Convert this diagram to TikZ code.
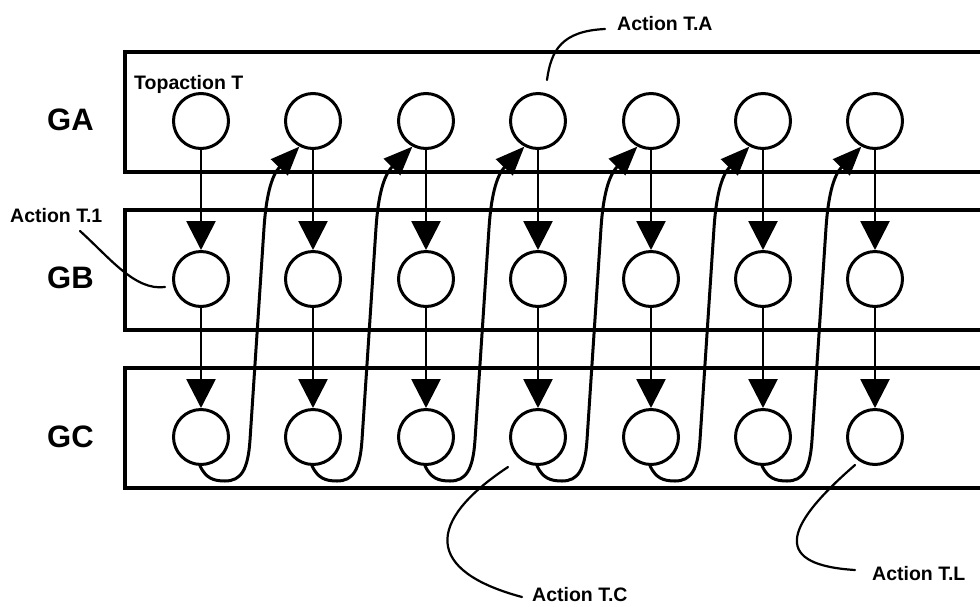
\documentclass[tikz,border=0pt]{standalone}
\usepackage{fontspec}
\setmainfont{Liberation Sans}
\usetikzlibrary{arrows.meta}
\begin{document}
\begin{tikzpicture}[x=1pt,y=-1pt,
  circ/.style={circle,draw,line width=3pt,minimum size=55pt,inner sep=0pt},
  grp/.style={line width=3.6pt},
  flow/.style={line width=2.8pt,-{Triangle[length=29pt,width=29pt]}},
  back/.style={line width=3pt,-{Triangle[length=29pt,width=23pt]},line cap=round},
  lead/.style={line width=2.2pt,line cap=round},
  lbl/.style={font=\bfseries\fontsize{19.5}{19.5}\selectfont,anchor=base west,inner sep=0pt},
  glbl/.style={font=\bfseries\fontsize{31}{31}\selectfont,anchor=base west,inner sep=0pt}]
\clip (0,0) rectangle (980,606);
\fill[white] (0,0) rectangle (980,606);
% group boxes
\draw[grp] (1000,52) -- (125,52) -- (125,172) -- (1000,172);
\draw[grp] (1000,210) -- (125,210) -- (125,330) -- (1000,330);
\draw[grp] (1000,368) -- (125,368) -- (125,488) -- (1000,488);
% group labels
\node[glbl] (lga) at (47,130) {GA};
\node[glbl] (lgb) at (47,288) {GB};
\node[glbl] (lgc) at (47,447) {GC};
% circles
\foreach \i/\x in {1/201,2/313,3/426,4/538,5/651,6/763,7/875}{
  \node[circ] (ga\i) at (\x,121) {};
  \node[circ] (gb\i) at (\x,279) {};
  \node[circ] (gc\i) at (\x,437) {};
  \draw[flow] (ga\i.south) -- (gb\i.north);
  \draw[flow] (gb\i.south) -- (gc\i.north);
}
% feedback connectors
\foreach \i/\j/\x in {1/2/201,2/3/313,3/4/426,4/5/538,5/6/651,6/7/763}{
  \draw[back] (gc\i.-92) .. controls (\x+5,478) and (\x+12,481) .. (\x+24,481)
     .. controls (\x+40,481) and (\x+47,470) .. (\x+49,440)
     -- (\x+63,228) .. controls (\x+65,198) and (\x+70,176) .. (ga\j.-118);
}
% labels
\node[lbl] (top) at (134,89) {Topaction T};
\node[lbl] (ta) at (617,30) {Action T.A};
\node[lbl] (t1) at (10,222) {Action T.1};
\node[lbl] (tc) at (532,601) {Action T.C};
\node[lbl] (tl) at (872,580) {Action T.L};
% leaders
\coordinate (ea) at (547,80);
\coordinate (e1) at (165,287);
\coordinate (ec) at (508,467);
\coordinate (el) at (855,465);
\draw[lead] (605,29) .. controls (562,31) and (551,50) .. (ea);
\draw[lead] (80,231) .. controls (110,258) and (135,291) .. (e1);
\draw[lead] (522,597) .. controls (425,571) and (425,522) .. (ec);
\draw[lead] (855,570) .. controls (775,565) and (780,530) .. (el);
\end{tikzpicture}
\end{document}
